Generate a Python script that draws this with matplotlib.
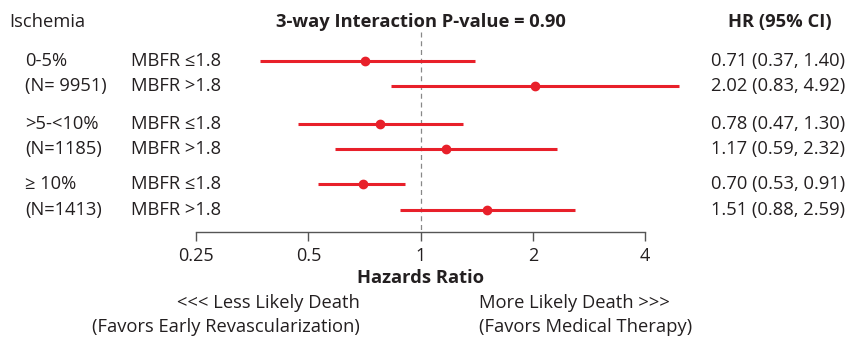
import matplotlib
matplotlib.use("Agg")
import matplotlib.pyplot as plt
from matplotlib.ticker import FixedLocator, NullLocator

# ischemia groups and subgroup rows
groups = ["0-5%", ">5-<10%", "\u2265 10%"]
group_n = ["(N= 9951)", "(N=1185)", "(N=1413)"]
mbfr_labels = ["MBFR \u22641.8", "MBFR >1.8"] * 3
hr = [0.71, 2.02, 0.78, 1.17, 0.70, 1.51]
ci_low = [0.37, 0.83, 0.47, 0.59, 0.53, 0.88]
ci_high = [1.40, 4.92, 1.30, 2.32, 0.91, 2.59]
x_ticks = [0.25, 0.5, 1, 2, 4]
x_tick_labels = ["0.25", "0.5", "1", "2", "4"]

# layout (pixel rows, from the top of the figure)
W, H = 847, 338
ROW_Y = [61, 86, 124, 149, 184, 210]
AXIS_Y = 232
RED = "#e8202a"
TXT = "#231f20"
FS = 13.2

plt.rcParams["font.family"] = ["Open Sans", "DejaVu Sans"]

fig = plt.figure(figsize=(W / 100, H / 100), dpi=100)
ax = fig.add_axes([0, 1 - AXIS_Y / H, 1, AXIS_Y / H])
ax.set_xscale("log", base=2)
# 1 sits at x=420.7px, one doubling = 112.3px
ax.set_xlim(2 ** (-420.7 / 112.3), 2 ** ((W - 420.7) / 112.3))
ax.set_ylim(AXIS_Y, 0)
ax.patch.set_alpha(0)

for s in ["top", "left", "right"]:
    ax.spines[s].set_visible(False)
ax.spines["bottom"].set_bounds(0.25, 4)
ax.spines["bottom"].set_color("#555555")
ax.spines["bottom"].set_linewidth(1.0)
ax.xaxis.set_major_locator(FixedLocator(x_ticks))
ax.xaxis.set_minor_locator(NullLocator())
ax.set_xticklabels(x_tick_labels)
ax.tick_params(axis="x", direction="out", length=6.5, width=1.0, color="#555555",
               labelsize=13, labelcolor=TXT, pad=4)
ax.set_yticks([])

# reference line at HR = 1
ax.vlines(1, 32, AXIS_Y, colors="#888888", linestyles=(0, (4, 3)), linewidth=0.9)

ax.hlines(ROW_Y, ci_low, ci_high, colors=RED, linewidth=2.2)
ax.plot(hr, ROW_Y, "o", color=RED, markersize=6)


def put(x, y, s, **kw):
    fig.text(x / W, 1 - y / H, s, fontsize=FS, color=TXT, va="center", **kw)


put(9, 22, "Ischemia")
put(421, 22, "3-way Interaction P-value = 0.90", ha="center", fontweight="bold")
put(780, 22, "HR (95% CI)", ha="center", fontweight="bold")

for i in range(3):
    put(25, ROW_Y[2 * i], groups[i])
    put(25, ROW_Y[2 * i + 1], group_n[i])

for i, lab in enumerate(mbfr_labels):
    put(131, ROW_Y[i], lab)
    put(711, ROW_Y[i], f"{hr[i]:.2f} ({ci_low[i]:.2f}, {ci_high[i]:.2f})")

put(421, 278, "Hazards Ratio", ha="center", fontweight="bold")
put(360, 303, "<<< Less Likely Death", ha="right")
put(360, 327, "(Favors Early Revascularization)", ha="right")
put(479, 303, "More Likely Death >>>")
put(479, 327, "(Favors Medical Therapy)")

fig.savefig("out.png", dpi=100)
